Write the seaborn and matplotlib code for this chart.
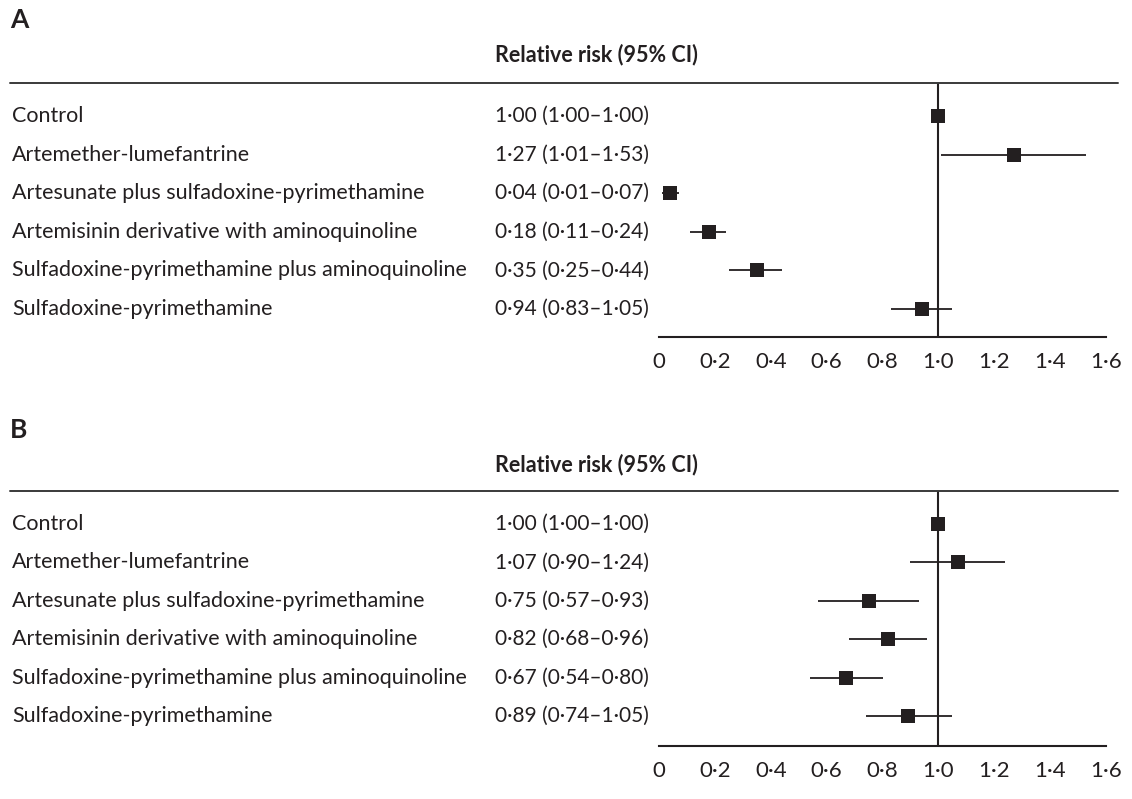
import pandas as pd
import seaborn as sns
import matplotlib.pyplot as plt
from matplotlib.lines import Line2D
from matplotlib import transforms

# data
treatments = ['Control',
              'Artemether-lumefantrine',
              'Artesunate plus sulfadoxine-pyrimethamine',
              'Artemisinin derivative with aminoquinoline',
              'Sulfadoxine-pyrimethamine plus aminoquinoline',
              'Sulfadoxine-pyrimethamine']
rr_a = [1.00, 1.27, 0.04, 0.18, 0.35, 0.94]
lo_a = [1.00, 1.01, 0.01, 0.11, 0.25, 0.83]
hi_a = [1.00, 1.53, 0.07, 0.24, 0.44, 1.05]
rr_b = [1.00, 1.07, 0.75, 0.82, 0.67, 0.89]
lo_b = [1.00, 0.90, 0.57, 0.68, 0.54, 0.74]
hi_b = [1.00, 1.24, 0.93, 0.96, 0.80, 1.05]
panel_names = ['A', 'B']
header = 'Relative risk (95% CI)'
xticks = [0, 0.2, 0.4, 0.6, 0.8, 1.0, 1.2, 1.4, 1.6]

sns.set_style('white')
plt.rcParams['font.family'] = ['Lato', 'DejaVu Sans']

W, H = 1132, 799
ink = '#231f20'
fig = plt.figure(figsize=(W / 100, H / 100), dpi=100)


def fx(px):
    return px / W


def fy(py):
    return 1 - py / H


def dot(v):
    return f'{v:.2f}'.replace('.', '·')


def tick_fmt(v):
    return '0' if v == 0 else f'{v:.1f}'.replace('.', '·')


# pixel layout for each panel: name y, header y, rule y, first row, row step, axis y
layouts = [dict(name=20, head=55, rule=83, row0=116, step=38.6, axis=337),
           dict(name=430, head=465, rule=491, row0=524, step=38.4, axis=746)]
panels = [(rr_a, lo_a, hi_a), (rr_b, lo_b, hi_b)]

for name, lay, (rr, lo, hi) in zip(panel_names, layouts, panels):
    df = pd.DataFrame({'treatment': treatments, 'rr': rr, 'lo': lo, 'hi': hi,
                       'row': range(len(treatments))})
    x0, x1 = 659, 1106
    ax = fig.add_axes([fx(x0), fy(lay['axis']), (x1 - x0) / W,
                       (lay['axis'] - lay['rule']) / H])
    last = lay['row0'] + (len(df) - 1) * lay['step']
    ax.set_ylim(len(df) - 1 + (lay['axis'] - last) / lay['step'],
                -(lay['row0'] - lay['rule']) / lay['step'])
    ax.set_xlim(0, 1.6)

    ax.axvline(1.0, color=ink, lw=1.5, zorder=1)
    ax.hlines(df['row'], df['lo'], df['hi'], color=ink, lw=1.3, zorder=2)
    sns.scatterplot(data=df, x='rr', y='row', marker='s', s=92, color=ink,
                    linewidth=0, ax=ax, zorder=3, legend=False, clip_on=False)

    for s in ['top', 'right', 'left']:
        ax.spines[s].set_visible(False)
    ax.spines['bottom'].set_color(ink)
    ax.spines['bottom'].set_linewidth(1.5)
    ax.set_xticks(xticks)
    ax.set_xticklabels([tick_fmt(t) for t in xticks])
    ax.tick_params(axis='x', direction='in', length=7, width=1.5, color=ink,
                   labelsize=16, labelcolor=ink, pad=11)
    ax.set_yticks([])
    ax.set_xlabel('')
    ax.set_ylabel('')

    # text columns
    trans = transforms.blended_transform_factory(fig.transFigure, ax.transData)
    for _, r in df.iterrows():
        ax.text(fx(12), r['row'], r['treatment'], transform=trans, ha='left',
                va='center', fontsize=15.5, color=ink)
        ax.text(fx(495), r['row'],
                f"{dot(r['rr'])} ({dot(r['lo'])}–{dot(r['hi'])})",
                transform=trans, ha='left', va='center', fontsize=15, color=ink)

    fig.text(fx(10), fy(lay['name']), name, ha='left', va='center',
             fontsize=19, fontweight='bold', color=ink)
    fig.text(fx(495), fy(lay['head']), header, ha='left', va='center',
             fontsize=15.5, fontweight='bold', color=ink)
    fig.add_artist(Line2D([fx(10), fx(1118)], [fy(lay['rule'])] * 2,
                          color='#3a3a3a', lw=1.4, transform=fig.transFigure))

fig.savefig('out.png', dpi=100)
